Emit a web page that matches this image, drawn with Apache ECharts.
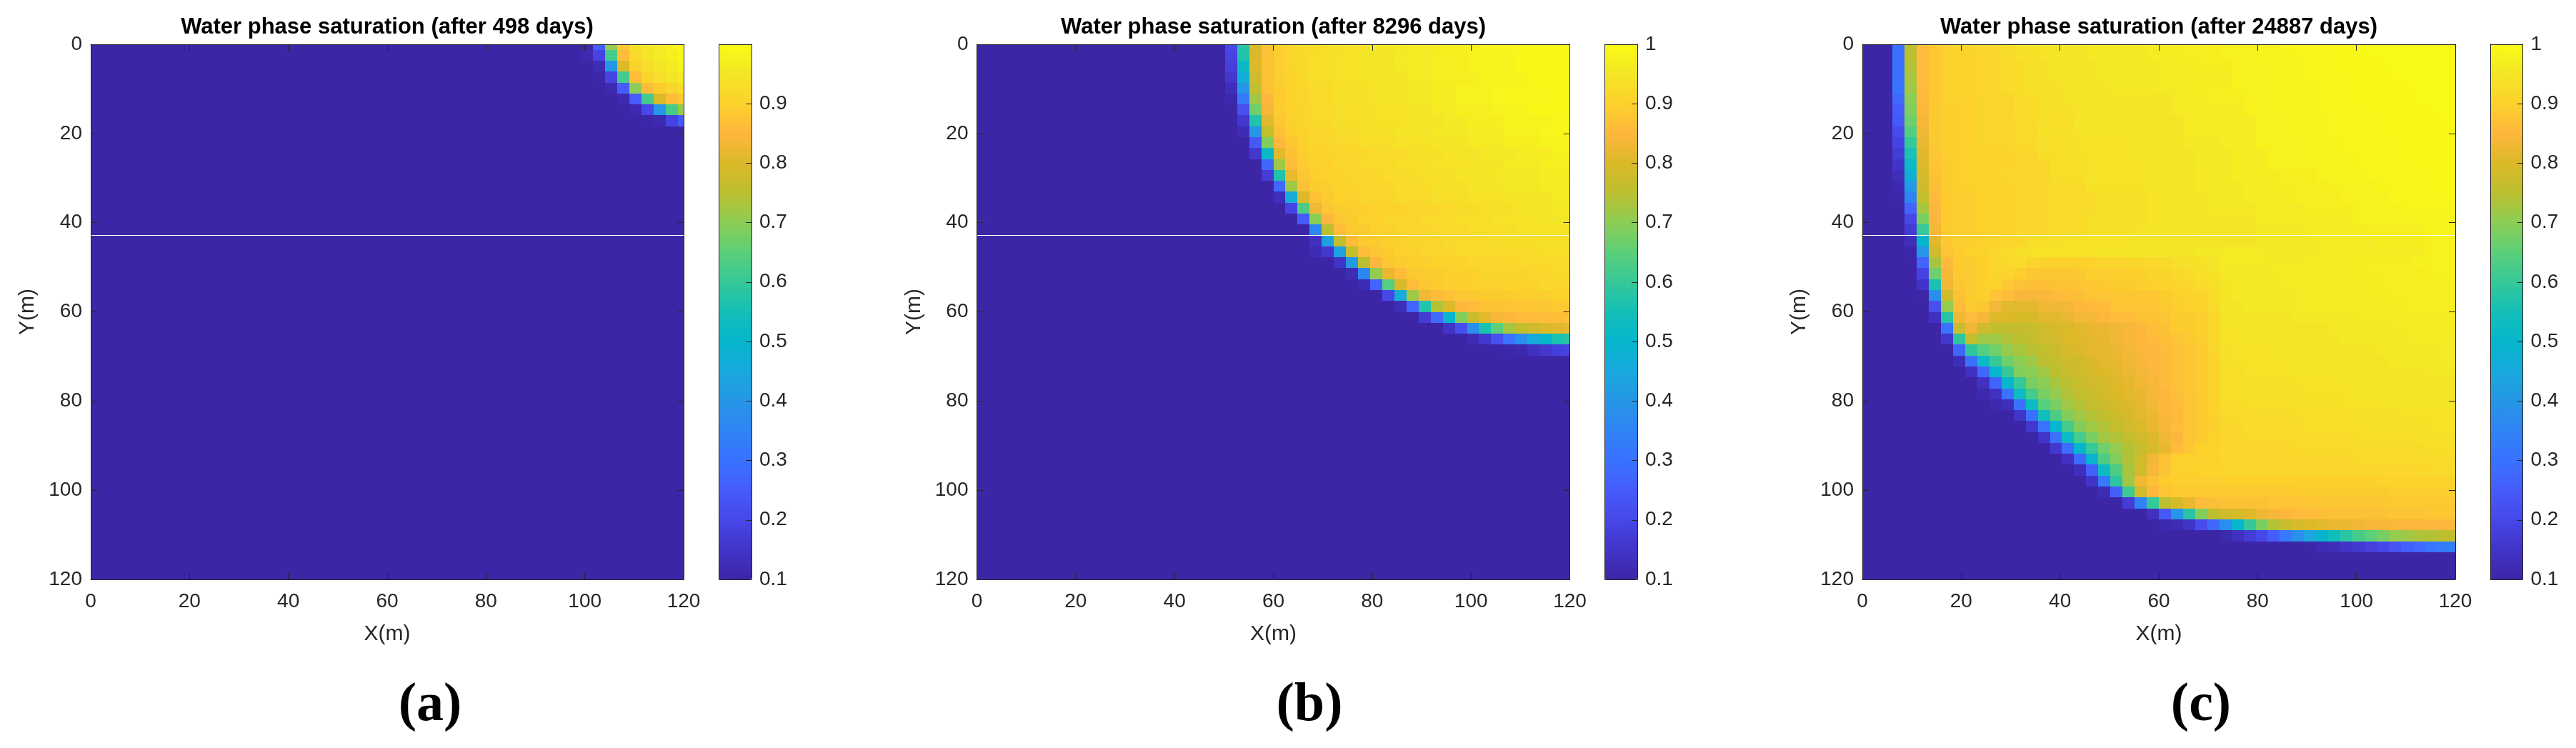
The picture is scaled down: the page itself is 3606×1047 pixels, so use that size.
<!DOCTYPE html>
<html><head><meta charset="utf-8">
<style>html,body{margin:0;padding:0;background:#fff}#c{width:3606px;height:1047px}</style>
<script src="https://cdn.jsdelivr.net/npm/echarts@6/dist/echarts.min.js"></script>
</head><body><div id="c"></div>
<script>
// Node count per side, domain, base saturation
const gridNodes = 50, domainMax = 120, baseValue = 0.1;
const xTicks = [0,20,40,60,80,100,120];
const barTicks = [0.1,0.2,0.3,0.4,0.5,0.6,0.7,0.8,0.9,1];
const barTicksA = [0.1,0.2,0.3,0.4,0.5,0.6,0.7,0.8,0.9];
const titles = ['Water phase saturation (after 498 days)','Water phase saturation (after 8296 days)','Water phase saturation (after 24887 days)'];
const captions = ['(a)','(b)','(c)'];
const barMax = [0.9997,1,1];
// colour, 0.05 steps from 0.10 to 1.00
const colourStops = ['#3c26a6','#4134c8','#4747e8','#465cfa','#3a72ff','#2f83f5','#2696e6','#19a9dd','#05b6cc','#14bfb8','#35c898','#5ccf79','#8bce55','#bcbf30','#dbb928','#feb73d','#fcd12c','#f4e626','#f9fb15'];

// Each row: [firstColumn, value, nextColumn, value, ...]; a value holds until the next column. Before the first column: base.
const rowsA = [
[42,.25,43,.71,44,.88,45,.93,46,.95,47,.96,48,.98,49,.995],
[41,.115,42,.19,43,.62,44,.86,45,.92,46,.95,47,.96,48,.97,49,.99],
[42,.12,43,.4,44,.8,45,.9,46,.93,47,.95,48,.96,49,.98],
[42,.105,43,.19,44,.62,45,.86,46,.91,47,.93,48,.95,49,.96],
[43,.115,44,.25,45,.7,46,.86,47,.89,48,.91,49,.93],
[44,.115,45,.25,46,.62,47,.8,48,.86,49,.885],
[45,.115,46,.2,47,.4,48,.62,49,.71],
[46,.105,47,.115,48,.19,49,.25]
];
const rowsB = [
[21,.2,22,.58,23,.8,24,.87,25,.895,26,.91,27,.925,29,.935,31,.945,33,.955,36,.965,39,.975,42,.985,46,.995],
[21,.19,22,.57,23,.8,24,.87,25,.895,26,.91,27,.92,28,.93,30,.94,32,.95,35,.96,38,.97,41,.98,45,.99],
[21,.18,22,.52,23,.8,24,.87,25,.895,26,.91,27,.92,28,.93,30,.94,32,.95,35,.96,38,.97,41,.98,45,.99],
[21,.16,22,.47,23,.78,24,.87,25,.895,26,.905,27,.92,28,.93,30,.94,33,.95,36,.96,38,.97,42,.98,46,.99],
[21,.13,22,.4,23,.76,24,.87,25,.89,26,.905,27,.915,28,.925,30,.935,33,.945,36,.955,38,.965,40,.975,43,.985,47,.99],
[21,.11,22,.32,23,.72,24,.85,25,.89,26,.905,27,.915,28,.925,30,.935,33,.945,36,.955,38,.965,40,.975,43,.985,47,.99],
[22,.22,23,.67,24,.84,25,.89,26,.9,27,.91,28,.92,30,.93,33,.94,36,.95,38,.96,40,.97,43,.98,46,.99],
[22,.16,23,.57,24,.81,25,.88,26,.9,27,.91,28,.92,30,.93,33,.94,36,.95,39,.96,41,.97,44,.98,48,.985],
[22,.12,23,.4,24,.76,25,.87,26,.895,27,.905,28,.915,30,.925,32,.935,35,.945,38,.955,41,.965,44,.975,47,.985],
[23,.24,24,.69,25,.85,26,.88,27,.9,28,.91,30,.92,32,.93,35,.94,38,.95,41,.96,44,.97,47,.98],
[23,.16,24,.52,25,.81,26,.87,27,.895,28,.905,30,.915,33,.925,36,.935,39,.945,42,.955,45,.965,48,.975],
[24,.28,25,.72,26,.86,27,.89,28,.9,30,.91,32,.92,35,.93,38,.94,41,.95,44,.96,47,.97],
[24,.17,25,.57,26,.82,27,.88,28,.895,29,.905,31,.915,34,.925,37,.935,40,.945,43,.955,47,.965],
[25,.28,26,.72,27,.87,28,.89,29,.895,30,.905,32,.915,35,.925,38,.935,41,.945,44,.955,47,.965],
[25,.13,26,.46,27,.8,28,.87,29,.89,30,.9,32,.91,35,.92,38,.93,41,.94,44,.95,48,.96],
[26,.19,27,.63,28,.83,29,.88,30,.89,31,.895,33,.905,36,.915,39,.925,42,.935,45,.945,48,.955],
[27,.25,28,.7,29,.85,30,.88,31,.89,32,.9,34,.91,37,.92,40,.93,43,.94,47,.95],
[27,.105,28,.36,29,.75,30,.86,31,.885,32,.89,33,.9,35,.91,38,.92,41,.93,45,.94],
[28,.14,29,.43,30,.76,31,.86,32,.885,33,.89,34,.9,36,.91,39,.92,43,.93,47,.935],
[28,.12,29,.16,30,.43,31,.76,32,.86,33,.88,34,.89,35,.9,37,.91,40,.92,44,.925,47,.93],
[30,.15,31,.41,32,.75,33,.85,34,.88,35,.89,36,.895,38,.905,41,.915,45,.92,48,.925],
[31,.12,32,.36,33,.71,34,.82,35,.86,36,.885,37,.89,39,.9,42,.91,46,.915,48,.92],
[32,.12,33,.27,34,.64,35,.79,36,.86,37,.88,38,.89,39,.895,41,.9,44,.905,47,.915],
[34,.2,35,.46,36,.72,37,.83,38,.86,39,.87,40,.88,41,.885,42,.89,45,.895,48,.905],
[35,.13,36,.27,37,.57,38,.74,39,.8,40,.85,41,.86,42,.87,44,.875,46,.88,48,.885],
[37,.17,38,.28,39,.5,40,.69,41,.77,42,.81,43,.84,44,.85,45,.86,47,.865,49,.87],
[39,.15,40,.22,41,.38,42,.56,43,.65,44,.73,45,.76,46,.78,47,.8,48,.81,49,.82],
[41,.12,42,.16,43,.22,44,.3,45,.38,46,.45,47,.5,48,.56,49,.58],
[44,.105,45,.11,46,.14,47,.16,48,.18,49,.19]
];
const rowsC = [
[3,.3,4,.75,5,.86,6,.885,7,.9,8,.91,10,.92,12,.93,13,.94,15,.95,19,.955,24,.965,27,.97,30,.975,33,.98,35,.985,38,.99,42,.995],
[3,.3,4,.75,5,.86,6,.885,7,.9,8,.905,10,.915,12,.925,13,.935,15,.945,19,.955,24,.965,27,.97,30,.975,33,.98,36,.985,39,.99,42,.995],
[3,.3,4,.74,5,.86,6,.885,7,.9,8,.905,10,.915,12,.925,14,.935,16,.945,20,.955,25,.965,28,.97,31,.975,34,.98,37,.985,39,.99,43,.995],
[3,.3,4,.73,5,.86,6,.885,7,.9,8,.905,10,.915,12,.925,14,.935,16,.945,20,.955,25,.96,28,.965,31,.975,34,.98,37,.985,40,.99,44,.995],
[3,.31,4,.72,5,.86,6,.885,7,.9,8,.905,10,.915,12,.925,14,.935,17,.945,21,.955,25,.96,28,.97,31,.975,35,.98,38,.985,41,.99,45,.995],
[3,.28,4,.7,5,.855,6,.885,7,.9,10,.91,13,.925,15,.935,17,.945,21,.95,26,.96,29,.97,32,.975,35,.98,38,.985,41,.99,46,.995],
[3,.25,4,.69,5,.85,6,.885,7,.895,8,.9,10,.91,13,.925,15,.935,18,.945,22,.95,26,.96,29,.965,32,.975,35,.98,38,.985,42,.99,47,.995],
[3,.24,4,.67,5,.84,6,.885,7,.895,8,.9,10,.91,13,.92,15,.93,18,.945,22,.95,27,.96,30,.965,33,.975,36,.98,39,.985,43,.99,48,.995],
[3,.21,4,.64,5,.83,6,.885,7,.895,8,.9,10,.91,13,.92,15,.935,18,.945,23,.95,27,.96,30,.965,33,.975,36,.98,39,.985,43,.99],
[3,.19,4,.6,5,.82,6,.885,7,.895,8,.9,10,.91,13,.92,15,.93,18,.94,23,.95,27,.955,30,.965,33,.975,37,.98,40,.985,44,.99],
[3,.17,4,.56,5,.81,6,.88,7,.895,8,.9,10,.905,13,.915,15,.93,18,.94,23,.95,28,.955,31,.965,34,.975,37,.98,40,.985,45,.99],
[3,.15,4,.52,5,.8,6,.875,7,.89,8,.9,10,.905,13,.915,16,.93,19,.94,24,.95,28,.955,31,.965,34,.975,38,.98,41,.985,46,.99],
[3,.13,4,.47,5,.79,6,.87,7,.89,8,.9,10,.905,12,.915,16,.93,19,.94,24,.945,28,.955,31,.965,35,.97,38,.98,42,.985,47,.99],
[3,.115,4,.41,5,.78,6,.865,7,.89,8,.9,10,.905,13,.915,16,.925,19,.94,24,.945,28,.955,32,.965,35,.97,39,.975,43,.985,47,.99],
[3,.105,4,.35,5,.76,6,.855,7,.89,8,.895,10,.905,13,.915,16,.925,20,.935,24,.945,29,.955,32,.965,36,.97,40,.975,44,.985,48,.99],
[4,.27,5,.73,6,.85,7,.89,8,.895,10,.905,13,.915,16,.925,20,.935,24,.945,29,.955,33,.96,37,.97,41,.975,45,.985],
[4,.2,5,.68,6,.845,7,.89,8,.895,10,.905,13,.915,16,.925,19,.935,24,.945,29,.95,33,.96,37,.965,41,.975,46,.98],
[4,.17,5,.6,6,.835,7,.89,8,.895,10,.905,13,.915,16,.925,19,.935,23,.945,28,.95,33,.955,37,.965,42,.97,47,.98],
[4,.13,5,.5,6,.81,7,.885,8,.895,10,.905,12,.915,14,.93,17,.94,23,.945,28,.95,33,.955,38,.96,43,.97,47,.975],
[4,.105,5,.4,6,.78,7,.875,8,.89,9,.9,10,.905,11,.915,12,.925,13,.935,14,.94,20,.945,24,.95,28,.955,30,.96,34,.955,38,.96,43,.965,47,.975],
[5,.27,6,.73,7,.855,8,.89,10,.9,11,.91,12,.92,13,.925,14,.91,15,.9,19,.905,20,.91,22,.915,24,.92,26,.93,27,.935,28,.94,29,.945,30,.96,34,.96,37,.965,41,.97,46,.975],
[5,.19,6,.67,7,.84,8,.885,9,.89,10,.9,11,.91,13,.895,14,.885,15,.88,18,.885,19,.895,22,.9,24,.91,26,.92,27,.925,28,.935,29,.94,30,.955,34,.96,38,.965,42,.97,47,.975],
[5,.15,6,.56,7,.83,8,.88,9,.89,10,.9,11,.905,12,.88,13,.87,14,.865,16,.87,18,.875,19,.88,20,.885,21,.89,23,.895,24,.9,25,.905,26,.91,27,.915,28,.925,29,.93,30,.95,31,.955,35,.96,39,.965,43,.97],
[5,.105,6,.38,7,.78,8,.87,9,.89,10,.9,11,.875,12,.86,13,.84,15,.845,16,.855,17,.86,18,.865,19,.875,21,.88,25,.89,26,.9,27,.905,28,.91,29,.925,30,.95,31,.955,36,.96,40,.965,44,.97],
[6,.22,7,.71,8,.86,9,.885,10,.88,11,.835,12,.81,15,.83,17,.835,18,.85,19,.855,20,.86,21,.875,25,.885,26,.895,27,.9,28,.905,29,.92,30,.95,32,.955,36,.96,41,.965,45,.97],
[6,.14,7,.58,8,.83,9,.86,10,.84,11,.8,13,.795,14,.79,15,.81,17,.82,18,.835,19,.84,20,.85,21,.86,23,.87,25,.875,26,.89,28,.895,29,.91,30,.945,32,.95,36,.955,41,.96,46,.965],
[7,.3,8,.77,9,.83,10,.78,11,.76,13,.765,14,.77,15,.78,16,.79,17,.8,18,.81,19,.82,20,.825,21,.83,22,.84,23,.85,24,.865,25,.87,26,.89,28,.9,29,.91,30,.94,31,.945,34,.95,39,.955,44,.96,48,.965],
[7,.16,8,.59,9,.76,10,.72,12,.74,13,.75,14,.76,15,.78,17,.8,18,.805,19,.81,20,.82,21,.83,22,.84,23,.85,24,.855,25,.865,26,.875,27,.885,28,.895,29,.91,30,.94,31,.945,34,.95,40,.955,45,.96],
[8,.27,9,.59,10,.64,11,.67,12,.71,13,.73,14,.745,15,.76,16,.775,17,.79,18,.8,19,.81,20,.815,21,.825,22,.835,23,.845,24,.85,25,.86,26,.87,27,.88,28,.89,29,.91,30,.935,31,.94,34,.945,38,.95,43,.955,48,.96],
[8,.13,9,.3,10,.52,11,.6,12,.67,13,.7,14,.72,15,.75,16,.76,17,.78,18,.785,19,.8,20,.81,21,.82,22,.83,23,.84,24,.85,25,.855,26,.87,27,.88,28,.89,29,.905,30,.93,31,.94,35,.945,39,.95,44,.955,48,.96],
[9,.14,10,.28,11,.5,12,.6,13,.69,14,.7,15,.72,16,.75,17,.77,18,.78,19,.79,20,.8,21,.81,22,.825,23,.835,24,.845,25,.855,26,.87,27,.88,28,.89,29,.905,30,.93,32,.94,36,.945,41,.95,47,.955],
[10,.14,11,.27,12,.5,13,.6,14,.68,15,.7,16,.73,17,.75,18,.77,19,.78,20,.79,21,.805,22,.815,23,.83,24,.84,25,.855,26,.87,27,.88,28,.89,29,.905,30,.93,32,.935,36,.94,40,.945,45,.95],
[10,.11,11,.14,12,.3,13,.53,14,.62,15,.68,16,.71,17,.74,18,.76,19,.77,20,.785,21,.8,22,.81,23,.82,24,.84,25,.85,26,.865,27,.875,28,.89,29,.905,30,.93,32,.935,37,.94,41,.945,46,.95],
[11,.11,12,.13,13,.3,14,.52,15,.64,16,.68,17,.72,18,.74,19,.76,20,.775,21,.79,22,.8,23,.815,24,.835,25,.85,26,.86,27,.875,28,.885,29,.9,30,.925,32,.93,36,.935,40,.94,44,.945,48,.95],
[13,.15,14,.3,15,.54,16,.63,17,.69,18,.72,19,.74,20,.76,21,.775,22,.79,23,.81,24,.825,25,.845,26,.855,27,.875,28,.885,29,.9,30,.92,32,.925,36,.93,41,.935,45,.94],
[14,.16,15,.3,16,.5,17,.62,18,.69,19,.72,20,.74,21,.76,22,.78,23,.8,24,.82,25,.84,26,.86,27,.875,28,.885,29,.895,30,.915,32,.925,37,.93,42,.935,47,.94],
[15,.15,16,.3,17,.52,18,.62,19,.68,20,.72,21,.74,22,.76,23,.78,24,.8,25,.83,26,.85,27,.875,28,.89,29,.9,30,.915,32,.92,36,.925,41,.93,46,.935],
[16,.16,17,.29,18,.5,19,.6,20,.67,21,.71,22,.74,23,.77,24,.79,25,.82,26,.86,27,.88,28,.9,29,.905,30,.915,36,.92,41,.925,47,.93],
[17,.14,18,.28,19,.49,20,.63,21,.69,22,.74,23,.78,24,.83,25,.87,26,.9,30,.915,36,.915,41,.92,47,.925],
[18,.13,19,.26,20,.53,21,.63,22,.73,23,.78,24,.84,25,.875,26,.9,28,.905,30,.91,42,.915,47,.92],
[19,.15,20,.32,21,.59,22,.72,23,.83,24,.87,25,.89,26,.895,30,.9,43,.905],
[20,.12,21,.26,22,.61,23,.78,24,.85,25,.875,26,.885,36,.89,44,.895],
[22,.17,23,.35,24,.6,25,.75,26,.795,27,.82,28,.86,29,.865,30,.87,34,.875,38,.88,44,.885],
[24,.14,25,.24,26,.4,27,.58,28,.69,29,.75,30,.78,31,.79,32,.805,33,.83,34,.84,35,.85,36,.86,38,.865,40,.87,44,.875,47,.88],
[25,.11,26,.12,27,.15,28,.21,29,.28,30,.38,31,.5,32,.6,33,.68,34,.74,35,.77,36,.79,37,.8,38,.81,39,.82,40,.825,41,.83,42,.84,44,.845,47,.85],
[30,.11,31,.14,32,.17,33,.2,34,.25,35,.32,36,.38,37,.44,38,.49,39,.54,40,.58,41,.62,42,.65,43,.68,44,.71,45,.72,46,.735,47,.74,48,.75,49,.755],
[37,.105,38,.12,39,.13,40,.145,41,.16,42,.18,43,.2,44,.23,45,.26,46,.28,47,.31,48,.33,49,.34]
];

const panels = [rowsA, rowsB, rowsC];
const step = domainMax / (gridNodes - 1);

function expand(rows) {
  const out = [];
  for (let j = 0; j < gridNodes; j++) {
    const r = rows[j] || [];
    let k = 0, v = baseValue;
    for (let i = 0; i < gridNodes; i++) {
      while (k < r.length && r[k] <= i) { v = r[k + 1]; k += 2; }
      out.push([i * step, j * step, v]);
    }
  }
  return out;
}

const ink = '#262626';
const plotLeft = [127, 1367.5, 2607];
const plotW = 830, plotTop = 62, plotH = 749;
const barLeft = [1006.5, 2246.5, 3486], barW = 45.5;
const captionX = [602, 1833, 3081];
const tickFont = {fontFamily:'Liberation Sans', fontSize:28, color:ink};
const line = {show:true, onZero:false, lineStyle:{color:ink, width:1}};

const option = {animation:false, backgroundColor:'#fff',
  title:[], grid:[], xAxis:[], yAxis:[], series:[], visualMap:[]};

function renderCell(params, api) {
  const x = api.value(0), y = api.value(1);
  const a = api.coord([x - step/2, y - step/2]);
  const b = api.coord([x + step/2, y + step/2]);
  const x0 = Math.round(a[0]), y0 = Math.round(a[1]);
  const rect = echarts.graphic.clipRectByRect(
    {x:x0, y:y0, width:Math.round(b[0]) - x0, height:Math.round(b[1]) - y0},
    params.coordSys);
  if (!rect) return null;
  return {type:'rect', shape:rect, style:{fill:api.visual('color')}};
}

panels.forEach((rows, p) => {
  const g = p * 2;
  option.grid.push({left:plotLeft[p], top:plotTop, width:plotW, height:plotH, containLabel:false});
  option.grid.push({left:barLeft[p], top:plotTop, width:barW, height:plotH, containLabel:false});
  const tick = {show:true, inside:true, length:9, lineStyle:{color:ink, width:1}};
  const base = {type:'value', min:0, max:domainMax, interval:20, splitLine:{show:false}, axisLine:line, axisTick:tick, z:6};
  option.xAxis.push(Object.assign({}, base, {gridIndex:g, position:'bottom', name:'X(m)', nameLocation:'middle', nameGap:62,
    nameTextStyle:{fontFamily:'Liberation Sans', fontSize:30, color:ink}, axisLabel:Object.assign({margin:17}, tickFont)}));
  option.xAxis.push(Object.assign({}, base, {gridIndex:g, position:'top', axisLabel:{show:false}}));
  option.yAxis.push(Object.assign({}, base, {gridIndex:g, position:'left', inverse:true, name:'Y(m)', nameLocation:'middle', nameGap:73,
    nameTextStyle:{fontFamily:'Liberation Sans', fontSize:30, color:ink}, axisLabel:Object.assign({margin:12}, tickFont)}));
  option.yAxis.push(Object.assign({}, base, {gridIndex:g, position:'right', inverse:true, axisLabel:{show:false}}));
  // colour bar frame
  const bx = {type:'value', gridIndex:g+1, min:0, max:1, splitLine:{show:false}, axisLine:line, axisTick:{show:false}, axisLabel:{show:false}, z:6};
  option.xAxis.push(Object.assign({}, bx, {position:'bottom'}));
  option.xAxis.push(Object.assign({}, bx, {position:'top'}));
  const ticks = p === 0 ? barTicksA : barTicks;
  const by = {type:'value', gridIndex:g+1, min:0.1, max:barMax[p], splitLine:{show:false}, axisLine:line, z:6};
  option.yAxis.push(Object.assign({}, by, {position:'left', axisTick:{show:false}, axisLabel:{show:false}}));
  option.yAxis.push(Object.assign({}, by, {position:'right',
    axisTick:{show:true, inside:true, length:8, customValues:ticks, lineStyle:{color:ink, width:1}},
    axisLabel:Object.assign({margin:11, customValues:ticks, formatter:v => String(+(+v).toFixed(1))}, tickFont)}));
  option.series.push({type:'custom', coordinateSystem:'cartesian2d', xAxisIndex:p*4, yAxisIndex:p*4,
    renderItem:renderCell, encode:{x:0, y:1}, data:expand(rows), silent:true, clip:true});
  option.visualMap.push({type:'continuous', show:true, seriesIndex:p, dimension:2, min:0.1, max:barMax[p],
    left:barLeft[p], top:plotTop, itemWidth:barW, itemHeight:plotH, padding:0, text:null, calculable:false,
    hoverLink:false, borderWidth:0, textStyle:{fontSize:0}, inRange:{color:colourStops}, z:4});
  option.title.push({text:titles[p], left:plotLeft[p] + plotW/2, top:23, textAlign:'center', padding:0,
    textStyle:{fontFamily:'Liberation Sans', fontWeight:'bold', fontSize:31, color:'#000'}});
  option.title.push({text:captions[p], left:captionX[p], top:950, textAlign:'center', padding:0,
    textStyle:{fontFamily:'Liberation Serif', fontWeight:'bold', fontSize:76, color:'#000'}});
});

const chart = echarts.init(document.getElementById('c'), null, {renderer:'canvas'});
chart.setOption(option);
</script></body></html>
